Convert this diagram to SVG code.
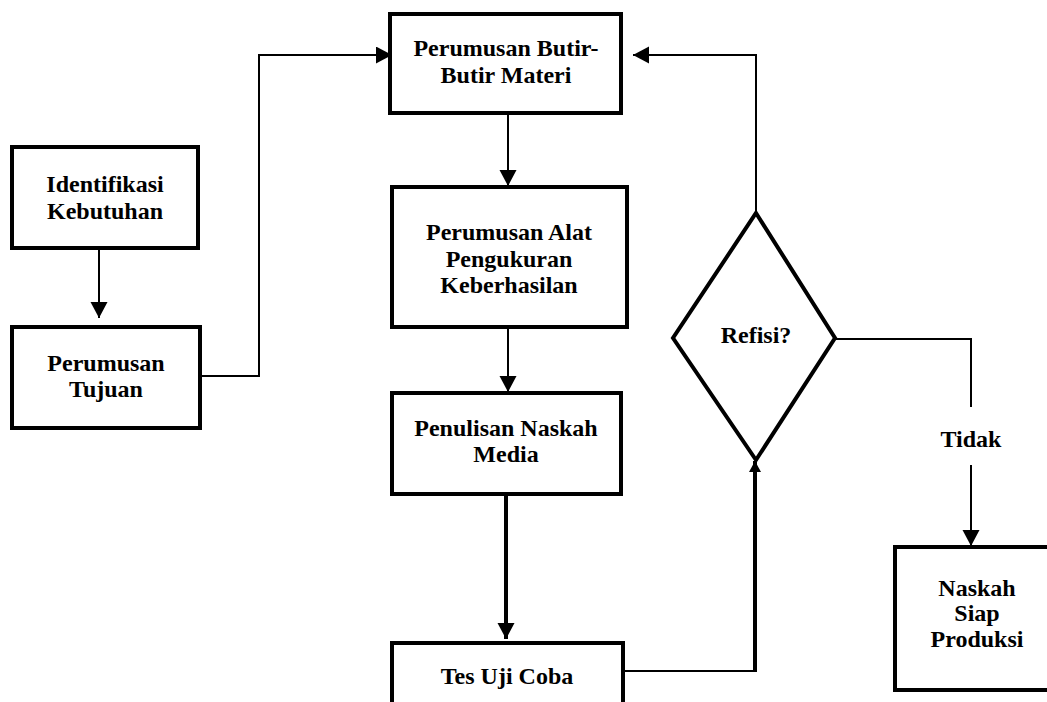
<svg xmlns="http://www.w3.org/2000/svg" width="1047" height="702" viewBox="0 0 1047 702">
  <style>
    .box { fill: #fff; stroke: #000; stroke-width: 4; }
    .lbl { font-family: "Liberation Serif", "Times New Roman", serif; font-weight: bold; font-size: 24px; fill: #000; text-anchor: middle; }
    .wire { fill: none; stroke: #000; stroke-width: 2; }
    .thick { fill: none; stroke: #000; stroke-width: 4; }
  </style>
  <defs>
    <marker id="head" markerUnits="userSpaceOnUse" markerWidth="18" markerHeight="18" refX="16" refY="8.5" orient="auto">
      <path d="M0,0 L16,8.5 L0,17 Z" fill="#000"/>
    </marker>
    <marker id="headSmall" markerUnits="userSpaceOnUse" markerWidth="12" markerHeight="12" refX="11" refY="6" orient="auto">
      <path d="M0,0 L11,6 L0,12 Z" fill="#000"/>
    </marker>
  </defs>

  <rect width="1047" height="702" fill="#fff"/>

  <!-- connectors -->
  <g id="connectors">
    <path class="wire" d="M99,249 V318" marker-end="url(#head)"/>
    <path class="wire" d="M200,376 H259 V55 H392" marker-end="url(#head)"/>
    <path class="wire" d="M508,115 V186" marker-end="url(#head)"/>
    <path class="wire" d="M508,328 V392" marker-end="url(#head)"/>
    <path class="thick" d="M506,495 V639" marker-end="url(#head)"/>
    <path class="wire" d="M623,671 H755"/>
    <path class="thick" d="M755,672 V461" marker-end="url(#headSmall)"/>
    <path class="wire" d="M756,213 V55 H633" marker-end="url(#head)"/>
    <path class="wire" d="M836,339 H971 V407"/>
    <path class="wire" d="M971,465 V546" marker-end="url(#head)"/>
    <text class="lbl" x="971" y="447" font-size="22">Tidak</text>
  </g>

  <g id="identifikasi">
    <rect class="box" x="12" y="147" width="186" height="101"/>
    <text class="lbl" x="105" y="192">Identifikasi</text>
    <text class="lbl" x="105" y="219">Kebutuhan</text>
  </g>

  <g id="tujuan">
    <rect class="box" x="12" y="327" width="188" height="101"/>
    <text class="lbl" x="106" y="371">Perumusan</text>
    <text class="lbl" x="106" y="397">Tujuan</text>
  </g>

  <g id="butir">
    <rect class="box" x="390" y="14" width="231" height="99"/>
    <text class="lbl" x="506" y="56">Perumusan Butir-</text>
    <text class="lbl" x="506" y="83">Butir Materi</text>
  </g>

  <g id="alat">
    <rect class="box" x="392" y="187" width="235" height="140"/>
    <text class="lbl" x="509" y="240">Perumusan Alat</text>
    <text class="lbl" x="509" y="267">Pengukuran</text>
    <text class="lbl" x="509" y="293">Keberhasilan</text>
  </g>

  <g id="naskah-media">
    <rect class="box" x="392" y="393" width="229" height="101"/>
    <text class="lbl" x="506" y="436">Penulisan Naskah</text>
    <text class="lbl" x="506" y="462">Media</text>
  </g>

  <g id="uji-coba">
    <rect class="box" x="392" y="643" width="231" height="80"/>
    <text class="lbl" x="507" y="684">Tes Uji Coba</text>
  </g>

  <g id="refisi">
    <polygon class="box" points="756,213 835,338 756,460 673,338" stroke-width="3.5"/>
    <text class="lbl" x="756" y="343">Refisi?</text>
  </g>

  <g id="siap-produksi">
    <rect class="box" x="895" y="547" width="170" height="143"/>
    <text class="lbl" x="977" y="596">Naskah</text>
    <text class="lbl" x="977" y="621">Siap</text>
    <text class="lbl" x="977" y="647">Produksi</text>
  </g>
</svg>
